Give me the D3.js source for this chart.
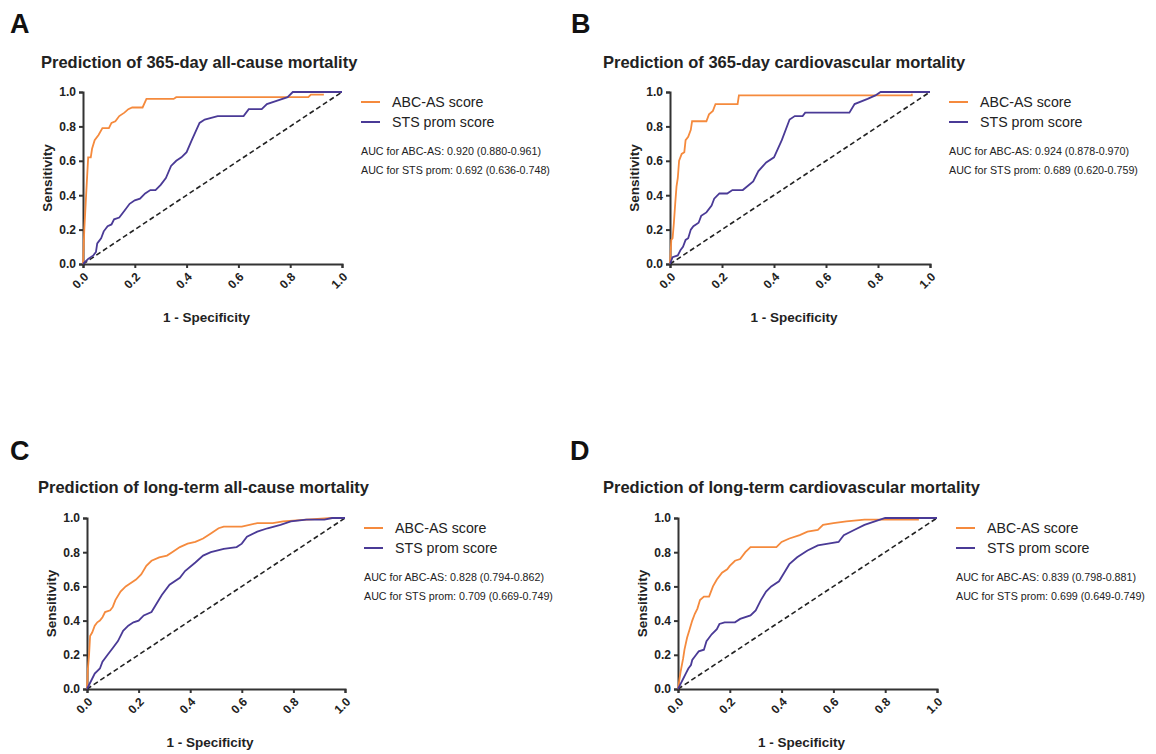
<!DOCTYPE html>
<html>
<head>
<meta charset="utf-8">
<script src="https://cdn.jsdelivr.net/npm/d3@7"></script>
<style>
  body { margin: 0; background: #fff; }
  svg { font-family: "Liberation Sans", Arial, sans-serif; }
</style>
</head>
<body>
<div id="chart"></div>
<script>
/* ROC curves: ABC-AS score vs STS prom score, four panels */

// [1 - specificity, sensitivity] pairs
const abc365All = [[0,0],[0.005,0.2],[0.012,0.4],[0.02,0.62],[0.03,0.62],[0.035,0.67],[0.045,0.72],[0.06,0.75],[0.075,0.79],[0.1,0.79],[0.11,0.82],[0.125,0.83],[0.14,0.86],[0.16,0.88],[0.175,0.9],[0.19,0.91],[0.23,0.91],[0.245,0.96],[0.35,0.96],[0.36,0.97],[0.87,0.97],[0.88,0.985],[0.93,0.985]];
const sts365All = [[0,0],[0.02,0.03],[0.04,0.05],[0.05,0.07],[0.055,0.12],[0.07,0.15],[0.08,0.19],[0.095,0.22],[0.11,0.23],[0.12,0.26],[0.14,0.27],[0.16,0.31],[0.18,0.35],[0.2,0.37],[0.22,0.38],[0.24,0.41],[0.26,0.43],[0.28,0.43],[0.3,0.46],[0.32,0.5],[0.34,0.57],[0.36,0.6],[0.38,0.62],[0.4,0.65],[0.42,0.72],[0.45,0.82],[0.47,0.84],[0.52,0.86],[0.62,0.86],[0.64,0.9],[0.69,0.9],[0.71,0.93],[0.75,0.95],[0.79,0.97],[0.81,1.0],[1,1]];

const abc365Cv = [[0,0],[0.005,0.14],[0.01,0.15],[0.015,0.24],[0.02,0.35],[0.025,0.45],[0.03,0.5],[0.035,0.6],[0.045,0.64],[0.055,0.65],[0.06,0.72],[0.07,0.74],[0.08,0.78],[0.085,0.83],[0.14,0.83],[0.15,0.87],[0.165,0.89],[0.175,0.93],[0.26,0.93],[0.265,0.98],[0.93,0.98],[0.93,0.99]];
const sts365Cv = [[0,0],[0.01,0.04],[0.03,0.05],[0.04,0.08],[0.05,0.1],[0.06,0.14],[0.07,0.15],[0.08,0.2],[0.09,0.22],[0.1,0.23],[0.11,0.24],[0.12,0.28],[0.14,0.3],[0.16,0.34],[0.17,0.38],[0.19,0.41],[0.22,0.41],[0.24,0.43],[0.28,0.43],[0.32,0.48],[0.34,0.54],[0.37,0.59],[0.4,0.62],[0.43,0.72],[0.46,0.84],[0.48,0.86],[0.51,0.86],[0.52,0.88],[0.69,0.88],[0.71,0.93],[0.76,0.96],[0.79,0.98],[0.81,1.0],[1,1]];

const abcLongAll = [[0,0],[0.003,0.11],[0.008,0.2],[0.012,0.31],[0.02,0.33],[0.03,0.37],[0.04,0.39],[0.05,0.4],[0.06,0.42],[0.07,0.45],[0.09,0.46],[0.1,0.48],[0.11,0.52],[0.13,0.57],[0.15,0.6],[0.17,0.62],[0.19,0.64],[0.21,0.67],[0.23,0.72],[0.25,0.75],[0.28,0.77],[0.31,0.78],[0.33,0.8],[0.36,0.83],[0.39,0.85],[0.42,0.86],[0.45,0.88],[0.48,0.91],[0.51,0.94],[0.53,0.95],[0.6,0.95],[0.66,0.97],[0.72,0.97],[0.76,0.98],[0.85,0.99],[0.95,1.0],[1,1]];
const stsLongAll = [[0,0],[0.02,0.06],[0.03,0.09],[0.05,0.12],[0.06,0.16],[0.08,0.2],[0.1,0.24],[0.12,0.28],[0.14,0.34],[0.16,0.37],[0.18,0.39],[0.2,0.4],[0.22,0.43],[0.25,0.45],[0.27,0.5],[0.29,0.55],[0.32,0.61],[0.36,0.65],[0.38,0.69],[0.42,0.74],[0.45,0.78],[0.48,0.8],[0.53,0.82],[0.58,0.83],[0.6,0.85],[0.62,0.89],[0.66,0.92],[0.7,0.94],[0.75,0.96],[0.79,0.98],[0.85,0.99],[0.92,0.99],[0.95,1.0],[1,1]];

const abcLongCv = [[0,0],[0.005,0.05],[0.01,0.1],[0.02,0.18],[0.025,0.23],[0.035,0.3],[0.045,0.35],[0.055,0.4],[0.065,0.44],[0.075,0.47],[0.085,0.52],[0.1,0.54],[0.12,0.54],[0.135,0.6],[0.15,0.64],[0.17,0.68],[0.19,0.7],[0.2,0.72],[0.22,0.75],[0.24,0.76],[0.26,0.8],[0.28,0.83],[0.38,0.83],[0.4,0.86],[0.43,0.88],[0.47,0.9],[0.5,0.92],[0.54,0.93],[0.56,0.96],[0.6,0.97],[0.65,0.98],[0.72,0.99],[0.93,0.99]];
const stsLongCv = [[0,0],[0.01,0.03],[0.02,0.06],[0.03,0.09],[0.04,0.12],[0.05,0.14],[0.055,0.17],[0.07,0.2],[0.08,0.22],[0.1,0.23],[0.11,0.28],[0.12,0.3],[0.13,0.32],[0.15,0.35],[0.16,0.38],[0.18,0.39],[0.22,0.39],[0.24,0.41],[0.28,0.43],[0.3,0.46],[0.32,0.52],[0.34,0.57],[0.36,0.6],[0.39,0.63],[0.41,0.68],[0.43,0.73],[0.46,0.77],[0.5,0.81],[0.54,0.84],[0.58,0.85],[0.62,0.86],[0.64,0.9],[0.68,0.93],[0.72,0.96],[0.76,0.98],[0.8,1.0],[1,1]];

const letters = ["A", "B", "C", "D"];
const titles = [
  "Prediction of 365-day all-cause mortality",
  "Prediction of 365-day cardiovascular mortality",
  "Prediction of long-term all-cause mortality",
  "Prediction of long-term cardiovascular mortality"
];
const aucAbc = ["0.920 (0.880-0.961)", "0.924 (0.878-0.970)", "0.828 (0.794-0.862)", "0.839 (0.798-0.881)"];
const aucSts = ["0.692 (0.636-0.748)", "0.689 (0.620-0.759)", "0.709 (0.669-0.749)", "0.699 (0.649-0.749)"];
const seriesNames = ["ABC-AS score", "STS prom score"];
const ticks = [0, 0.2, 0.4, 0.6, 0.8, 1.0];

const abcCurves = [abc365All, abc365Cv, abcLongAll, abcLongCv];
const stsCurves = [sts365All, sts365Cv, stsLongAll, stsLongCv];

const orange = "#f58a3d",
      purple = "#4a3a96",
      axisColor = "#333";

const width = 1156, height = 754;

// panel placement (pixels)
const layout = [
  { lx: 10,  ly: 33,  tx: 41,  ty: 68,  x0: 83,  x1: 342, yTop: 92,  yBot: 264 },
  { lx: 571, ly: 33,  tx: 603, ty: 68,  x0: 670, x1: 930, yTop: 92,  yBot: 264 },
  { lx: 10,  ly: 460, tx: 38,  ty: 493, x0: 87,  x1: 345, yTop: 518, yBot: 689 },
  { lx: 570, ly: 460, tx: 603, ty: 493, x0: 678, x1: 937, yTop: 518, yBot: 689 }
];

const svg = d3.select("#chart")
  .append("svg")
  .attr("width", width)
  .attr("height", height);

layout.forEach((p, i) => {
  const g = svg.append("g");

  const x = d3.scaleLinear().domain([0, 1]).range([p.x0, p.x1]);
  const y = d3.scaleLinear().domain([0, 1]).range([p.yBot, p.yTop]);

  g.append("text")
    .attr("x", p.lx).attr("y", p.ly)
    .attr("font-size", 27).attr("font-weight", "bold")
    .attr("fill", "#111")
    .text(letters[i]);

  g.append("text")
    .attr("x", p.tx).attr("y", p.ty)
    .attr("font-size", 16.5).attr("font-weight", "bold")
    .attr("fill", "#222")
    .text(titles[i]);

  // axes
  const xAxis = g.append("g")
    .attr("transform", `translate(0,${p.yBot})`)
    .call(d3.axisBottom(x).tickValues(ticks).tickSize(4).tickFormat(d3.format(".1f")));
  xAxis.selectAll("text")
    .attr("text-anchor", "end")
    .attr("transform", "translate(-4,4) rotate(-45)")
    .attr("dy", "0.55em");

  const yAxis = g.append("g")
    .attr("transform", `translate(${p.x0},0)`)
    .call(d3.axisLeft(y).tickValues(ticks).tickSize(4).tickPadding(3).tickFormat(d3.format(".1f")));

  [xAxis, yAxis].forEach(a => {
    a.select(".domain").attr("stroke", axisColor).attr("stroke-width", 2);
    a.selectAll(".tick line").attr("stroke", axisColor).attr("stroke-width", 2);
    a.selectAll("text")
      .attr("font-size", 12).attr("font-weight", "bold")
      .attr("fill", "#222")
      .attr("font-family", "Liberation Sans, Arial, sans-serif");
  });

  g.append("text")
    .attr("transform", `translate(${p.x0 - 31},${(p.yTop + p.yBot) / 2}) rotate(-90)`)
    .attr("text-anchor", "middle")
    .attr("font-size", 13.5).attr("font-weight", "bold")
    .attr("fill", "#222")
    .text("Sensitivity");

  g.append("text")
    .attr("x", (p.x0 + p.x1) / 2 - 6).attr("y", p.yBot + 58)
    .attr("text-anchor", "middle")
    .attr("font-size", 13.5).attr("font-weight", "bold")
    .attr("fill", "#222")
    .text("1 - Specificity");

  const line = d3.line().x(d => x(d[0])).y(d => y(d[1]));

  // reference diagonal
  g.append("path")
    .datum([[0, 0], [1, 1]])
    .attr("d", line)
    .attr("fill", "none")
    .attr("stroke", "#222")
    .attr("stroke-width", 1.6)
    .attr("stroke-dasharray", "5,3");

  g.append("path")
    .datum(abcCurves[i])
    .attr("d", line)
    .attr("fill", "none")
    .attr("stroke", orange)
    .attr("stroke-width", 1.8);

  g.append("path")
    .datum(stsCurves[i])
    .attr("d", line)
    .attr("fill", "none")
    .attr("stroke", purple)
    .attr("stroke-width", 1.8);

  // legend
  const lg = g.append("g").attr("transform", `translate(${p.x1 + 19},${p.yTop})`);
  [orange, purple].forEach((c, j) => {
    lg.append("line")
      .attr("x1", 0).attr("x2", 19)
      .attr("y1", 10 + j * 20).attr("y2", 10 + j * 20)
      .attr("stroke", c).attr("stroke-width", 2);
    lg.append("text")
      .attr("x", 31).attr("y", 10 + j * 20)
      .attr("dy", "0.35em")
      .attr("font-size", 14.2)
      .attr("fill", "#222")
      .text(seriesNames[j]);
  });
  lg.append("text")
    .attr("x", 0).attr("y", 59).attr("dy", "0.35em")
    .attr("font-size", 10.7).attr("fill", "#222")
    .text("AUC for ABC-AS: " + aucAbc[i]);
  lg.append("text")
    .attr("x", 0).attr("y", 78).attr("dy", "0.35em")
    .attr("font-size", 10.7).attr("fill", "#222")
    .text("AUC for STS prom: " + aucSts[i]);
});
</script>
</body>
</html>
